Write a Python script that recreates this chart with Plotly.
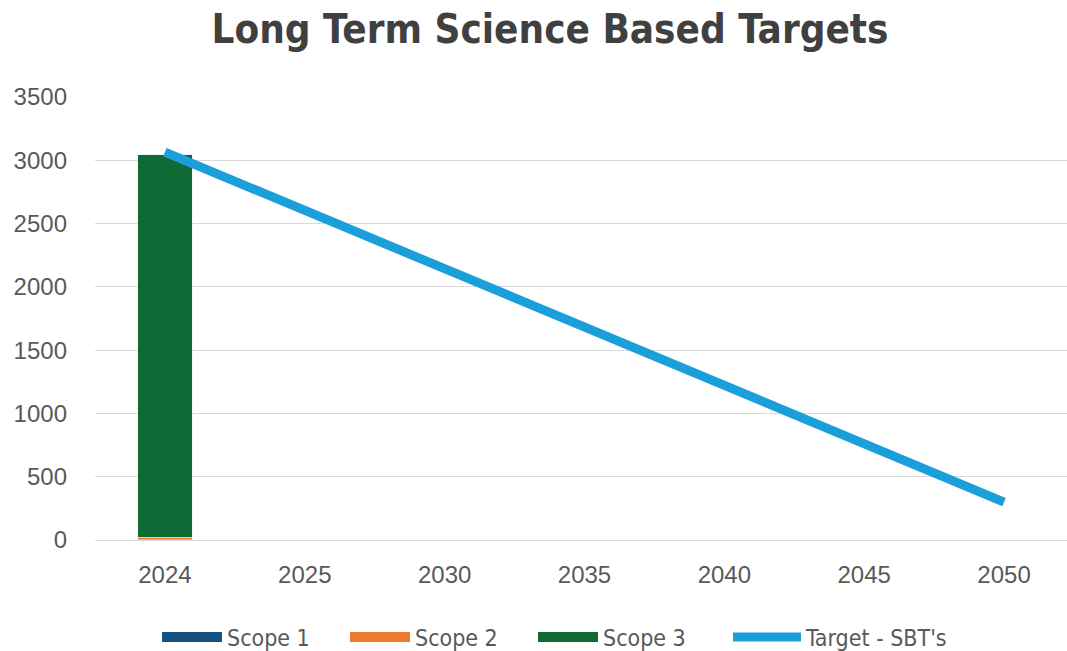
import plotly.graph_objects as go

years = ["2024", "2025", "2030", "2035", "2040", "2045", "2050"]
scope1 = [5, None, None, None, None, None, None]
scope2 = [18, None, None, None, None, None, None]
scope3 = [3020, None, None, None, None, None, None]
target = [3065, 2605, 2145, 1685, 1225, 765, 300]
y_ticks = [0, 500, 1000, 1500, 2000, 2500, 3000, 3500]

series = [("Scope 1", scope1, "#15527f"), ("Scope 2", scope2, "#f07a2c"), ("Scope 3", scope3, "#0f6a35")]

narrow = "Liberation Sans Narrow, DejaVu Sans Condensed, sans-serif"

fig = go.Figure()
for name, vals, col in series:
    fig.add_trace(go.Bar(x=years, y=vals, name=name, marker_color=col,
                         legendgroup=name, showlegend=False))
    # legend swatch drawn as a wide rectangle-like line (no data points)
    fig.add_trace(go.Scatter(x=[None], y=[None], name=name, mode="lines",
                             legendgroup=name, line=dict(color=col, width=14),
                             hoverinfo="skip", legend="legend"))
fig.add_trace(go.Scatter(x=years, y=target, name="Target - SBT's", mode="lines",
                         line=dict(color="#1b9fda", width=9), legend="legend2"))

legend_common = dict(orientation="h", xref="container", yref="container",
                     y=(651 - 637) / 651, yanchor="middle",
                     font=dict(family=narrow, size=23, color="#595959"),
                     traceorder="normal", bgcolor="rgba(0,0,0,0)")

fig.update_layout(
    width=1067, height=651,
    barmode="stack", bargap=0.61,
    plot_bgcolor="white", paper_bgcolor="white",
    margin=dict(l=95, r=0, t=97, b=111),
    title=dict(text="<b>Long Term Science Based Targets</b>",
               font=dict(family=narrow, size=40, color="#404040"),
               x=550 / 1067, xref="container", xanchor="center",
               y=1 - 29 / 651, yref="container", yanchor="middle"),
    font=dict(family="Liberation Sans, Arial, sans-serif", color="#595959"),
    legend=dict(**legend_common, x=157 / 1067, xanchor="left",
                itemwidth=60, entrywidth=113, entrywidthmode="pixels"),
    legend2=dict(**legend_common, x=728 / 1067, xanchor="left", itemwidth=68),
    showlegend=True,
)
fig.update_xaxes(type="category", range=[-0.5, 6.45], showgrid=False, showline=True,
                 linecolor="#d9d9d9", linewidth=1, tickfont=dict(size=24, color="#595959"),
                 ticks="", ticklabelstandoff=13)
fig.update_yaxes(range=[0, 3500], tickvals=y_ticks, showgrid=True, gridcolor="#d9d9d9",
                 gridwidth=1, zeroline=False, tickfont=dict(size=24, color="#595959"),
                 ticks="", ticklabelstandoff=27)

fig.write_html("out.html", config={"displayModeBar": False},
               post_script="document.body.style.margin='0';")
